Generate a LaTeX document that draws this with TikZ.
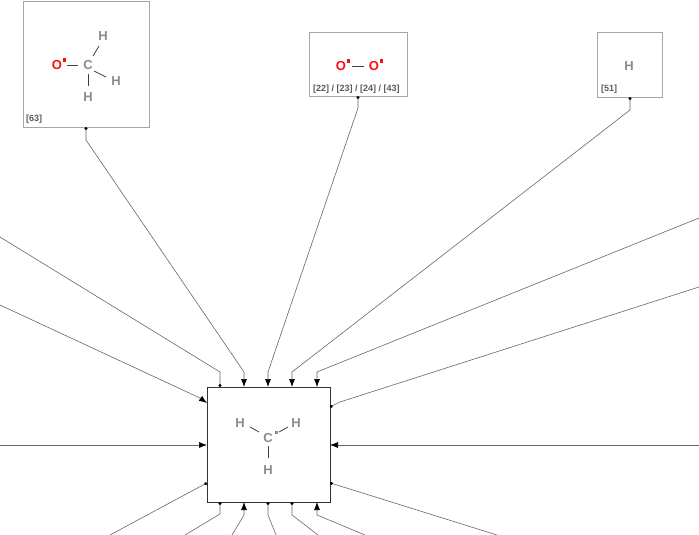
\documentclass[tikz,border=0pt]{standalone}
\usepackage{fontspec}
\setmainfont{Liberation Sans}
\usetikzlibrary{arrows.meta}
\definecolor{atomgrey}{RGB}{140,140,140}
\definecolor{labelgrey}{RGB}{90,90,90}
\definecolor{oxred}{RGB}{255,13,13}
\tikzset{
	molbox/.style={draw=black!35, line width=0.7pt},
	hub/.style={draw=black!80, line width=0.8pt},
	atom/.style={font=\bfseries\fontsize{13}{13}\selectfont, text=atomgrey, inner sep=0},
	oatom/.style={atom, text=oxred},
	reflabel/.style={font=\bfseries\fontsize{9}{9}\selectfont, text=labelgrey, inner sep=0, anchor=south west},
	bond/.style={draw=black!75, line width=0.8pt},
	link/.style={draw=black!60, line width=0.6pt},
	into/.style={link, -{Latex[length=8pt,width=6pt,color=black]}},
	dotend/.style={link, {Circle[length=3pt,color=black]}-},
	dotinto/.style={link, {Circle[length=3pt,color=black]}-{Latex[length=8pt,width=6pt,color=black]}}
}
\newcommand{\raddot}[1]{\fill[oxred] (#1) ++(0.5,-3) rectangle ++(3.5,-3.5);}
\begin{document}
\begin{tikzpicture}[x=1pt, y=-1pt]
	\useasboundingbox (0,0) rectangle (699,535);

	% boxes
	\draw[molbox] (23,1) rectangle (149,127);
	\draw[molbox] (309,32) rectangle (407,96);
	\draw[molbox] (597,32) rectangle (662,97);
	\draw[hub] (207,387) rectangle (330,502);

	% formaldehyde-like fragment
	\node[oatom] (o1) at (57,65) {O};
	\node[atom] (c1) at (88,65) {C};
	\node[atom] (h1a) at (103,36) {H};
	\node[atom] (h1b) at (116,81) {H};
	\node[atom] (h1c) at (88,97) {H};
	\raddot{o1.east}
	\draw[bond] (67,65) -- (78,65);
	\draw[bond] (93,56) -- (99,46);
	\draw[bond] (94,71) -- (106,77);
	\draw[bond] (88,74) -- (88,86);
	\node[reflabel] at (26,124) {[63]};

	% dioxygen
	\node[oatom] (o2) at (341,66) {O};
	\node[oatom] (o3) at (374,66) {O};
	\raddot{o2.east}
	\raddot{o3.east}
	\draw[bond] (352,66) -- (364,66);
	\node[reflabel] at (313,94) {[22] / [23] / [24] / [43]};

	% hydrogen
	\node[atom] (h2) at (629,66) {H};
	\node[reflabel] at (601,94) {[51]};

	% methyl radical
	\node[atom] (c2) at (268,438) {C};
	\node[atom] (h3a) at (240,423) {H};
	\node[atom] (h3b) at (296,423) {H};
	\node[atom] (h3c) at (268,470) {H};
	\fill[atomgrey] (275,431) rectangle ++(2.6,2.6);
	\draw[bond] (250,427) -- (259,432);
	\draw[bond] (279,432) -- (288,427);
	\draw[bond] (268,446) -- (268,458);

	% connectors
	\draw[dotinto] (86,127) -- (86,140) -- (244,372) -- (244,387);
	\draw[dotinto] (358,96) -- (358,108) -- (268,372) -- (268,387);
	\draw[dotinto] (630,97) -- (630,110) -- (292,372) -- (292,387);
	\draw[into] (699,218) -- (317,372) -- (317,387);
	\draw[dotend] (220,387) -- (220,372) -- (0,237);
	\draw[into] (0,305) -- (200,398) -- (207,403);
	\draw[into] (0,445) -- (207,445);
	\draw[dotend] (330,407) -- (340,402) -- (699,287);
	\draw[into] (699,445) -- (330,445);
	\draw[dotend] (207,483) -- (203,485) -- (110,535);
	\draw[dotend] (330,483) -- (337,485) -- (497,535);
	\draw[dotend] (220,502) -- (220,514) -- (185,535);
	\draw[into] (232,535) -- (244,515) -- (244,502);
	\draw[dotend] (268,502) -- (268,515) -- (276,535);
	\draw[dotend] (292,502) -- (292,515) -- (318,535);
	\draw[into] (365,535) -- (317,515) -- (317,502);
\end{tikzpicture}
\end{document}
